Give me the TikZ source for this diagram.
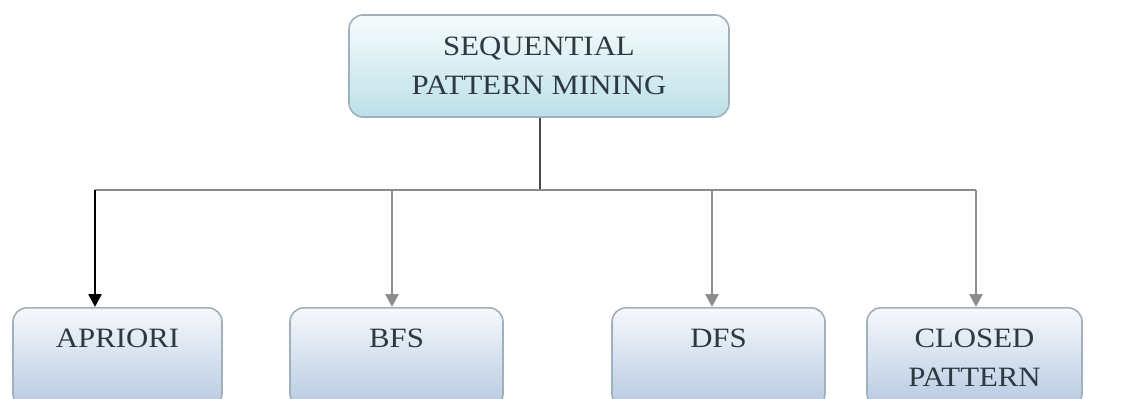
\documentclass[tikz,border=0pt]{standalone}
\usepackage{fontspec}
\setmainfont{Liberation Serif}[FakeStretch=1.1]
\usetikzlibrary{arrows.meta,calc}
\definecolor{txt}{HTML}{2E3842}
\definecolor{edge}{HTML}{A0B0BC}
\definecolor{topbot}{HTML}{BCE0E8}
\definecolor{toptop}{HTML}{F7FCFD}
\definecolor{boxtop}{HTML}{F6F8FB}
\definecolor{boxbot}{HTML}{B6CAE2}
\definecolor{greyline}{HTML}{8C8C8C}
\definecolor{darkline}{HTML}{4A4A4A}
\begin{document}
\begin{tikzpicture}[x=0.5pt,y=-0.5pt,
  rootbox/.style={draw=edge, line width=0.8pt, rounded corners=7pt, top color=toptop, bottom color=topbot, minimum width=190pt, minimum height=51pt, inner sep=0pt},
  leafbox/.style={draw=edge, line width=0.8pt, rounded corners=7pt, top color=boxtop, bottom color=boxbot, minimum height=50pt, anchor=north, inner sep=0pt},
  lbl/.style={text=txt, align=center, font=\fontsize{14}{19.5}\selectfont, inner sep=0pt},
  conn/.style={line width=1.25pt},
  tip/.style={-{Triangle[length=6.5pt,width=6.5pt]}}
]
\useasboundingbox (0,0) rectangle (1124,398);
\clip (0,0) rectangle (1124,398);
\fill[white] (0,0) rectangle (1124,398);

\node[rootbox] (root) at (539,66) {};
\node[lbl] (roottext) at (root.center) {SEQUENTIAL\\PATTERN MINING};

\node[leafbox, minimum width=104.5pt] (apriori) at (117.5,307) {};
\node[leafbox, minimum width=106.5pt] (bfs) at (396.5,307) {};
\node[leafbox, minimum width=106.5pt] (dfs) at (718.5,307) {};
\node[leafbox, minimum width=107.5pt] (closed) at (974.5,307) {};

\node[lbl] (tapriori) at ($(apriori.north)+(0,31)$) {APRIORI};
\node[lbl] (tbfs) at ($(bfs.north)+(0,31)$) {BFS};
\node[lbl] (tdfs) at ($(dfs.north)+(0,31)$) {DFS};
\node[lbl] (tclosed) at ($(closed.north)+(0,50.5)$) {CLOSED\\PATTERN};

\coordinate (j) at (540,190);
\coordinate (hl) at (95,190);
\coordinate (hr) at (976,190);
\coordinate (ea) at ($(apriori.north)+(-22.5,0)$);
\coordinate (eb) at ($(bfs.north)+(-4.5,0)$);
\coordinate (ed) at ($(dfs.north)+(-6.5,0)$);
\coordinate (ec) at ($(closed.north)+(1.5,0)$);

\draw[conn, darkline] (root.south -| j) -- (j);
\draw[conn, greyline] (hl) -- (hr);
\draw[conn, black, tip] (hl) -- (ea);
\draw[conn, greyline, tip] (eb |- hl) -- (eb);
\draw[conn, greyline, tip] (ed |- hl) -- (ed);
\draw[conn, greyline, tip] (hr) -- (ec);
\end{tikzpicture}
\end{document}
